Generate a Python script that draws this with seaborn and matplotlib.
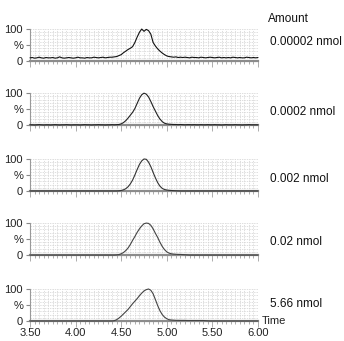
import numpy as np
import pandas as pd
import seaborn as sns
import matplotlib.pyplot as plt
from matplotlib.ticker import MultipleLocator, FixedLocator

# sampling grid of the traces (minutes)
time = np.round(3.5 + 0.025 * np.arange(101), 3)

# relative intensity (%)
amt1 = [10, 11, 9, 10, 12, 10, 9, 11, 10, 10,
        11, 9, 10, 13, 10, 9, 10, 11, 10, 9,
        10, 12, 10, 10, 9, 11, 10, 10, 12, 11,
        10, 11, 12, 10, 11, 12, 12, 13, 14, 17,
        20, 26, 31, 36, 40, 45, 58, 75, 90, 100,
        93, 99, 95, 84, 58, 47, 38, 31, 25, 20,
        16, 14, 13, 12, 13, 11, 12, 11, 12, 11,
        10, 12, 11, 11, 10, 12, 11, 10, 11, 12,
        11, 10, 11, 12, 10, 11, 10, 11, 10, 12,
        11, 10, 11, 10, 10, 12, 11, 10, 11, 10,
        11]
amt2 = [1, 1, 0.5, 1, 1.5, 1, 0.5, 1, 1, 0.5,
        1, 1.5, 1, 0.5, 1, 1, 1.5, 1, 0.5, 1,
        1, 1, 0.5, 1, 1.5, 1, 1, 0.5, 1, 1,
        1.5, 1, 1, 0.5, 1, 1, 1.5, 1, 1.5, 2,
        4, 8, 14, 22, 31, 40, 52, 68, 84, 95,
        100, 97, 88, 74, 58, 44, 30, 19, 11, 6,
        4, 3, 2.5, 2, 2, 1.5, 2, 1.5, 1, 1.5,
        1.5, 1, 1.5, 1, 1, 1.5, 1, 1, 1.5, 1,
        1, 1.5, 1, 1, 0.5, 1, 1.5, 1, 1, 1,
        1.5, 1, 1, 0.5, 1, 1, 1.5, 1, 1, 1,
        1]
amt3 = ([0] * 39 +
        [0.5, 1.5, 3.5, 7, 13, 22, 34, 50, 67, 83, 94,
         100, 99, 90, 76, 58, 41, 26, 15, 8, 4.5,
         3, 2, 1.5, 1, 0.6, 0.3] +
        [0] * 35)
amt4 = ([0] * 38 +
        [0.5, 1.5, 4, 8, 14, 22, 33, 46, 58, 71, 82, 91,
         98, 100, 99, 93, 82, 68, 55, 40, 27, 17,
         10, 6, 4, 3, 2.5, 2, 2, 1.5, 1, 0.5] +
        [0] * 31)
amt5 = ([0] * 37 +
        [1, 4, 9, 15, 22, 29, 36, 45, 54, 62, 70, 79, 87,
         94, 98, 100, 96, 85, 67, 48, 32, 20, 12,
         7, 4, 3, 2.5, 2, 2, 1.8, 1.8, 1.8, 1.5,
         1.5, 1.5, 1.5, 1.5, 1.5, 1.5, 1.5, 1, 0.5] +
        [0] * 22)

amounts = ['0.00002 nmol', '0.0002 nmol', '0.002 nmol', '0.02 nmol', '5.66 nmol']
series = [amt1, amt2, amt3, amt4, amt5]
line_colors = ['#111111', '#222222', '#333333', '#444444', '#444444']
xtick_vals = [3.5, 4.0, 4.5, 5.0, 5.5, 6.0]
xtick_text = ['3.50', '4.00', '4.50', '5.00', '5.50', '6.00']

sns.set_style('white')
plt.rcParams['font.family'] = ['Liberation Sans', 'DejaVu Sans']

fig = plt.figure(figsize=(3.44, 3.41), dpi=100)

# panel positions in figure fraction
bottoms = [0.821, 0.633, 0.440, 0.252, 0.0587]
label_y = [42, 112, 179, 242, 304]

for i, (vals, amt) in enumerate(zip(series, amounts)):
    ax = fig.add_axes([0.0872, bottoms[i], 0.6628, 0.0938])
    df = pd.DataFrame({'time': time, 'pct': vals})
    sns.lineplot(data=df, x='time', y='pct', color=line_colors[i], linewidth=0.8,
                 estimator=None, ax=ax, clip_on=False, zorder=3)
    ax.set_xlim(3.5, 6.0)
    ax.set_ylim(0, 100)

    # dense dashed grid
    ax.xaxis.set_major_locator(FixedLocator(xtick_vals))
    ax.xaxis.set_minor_locator(MultipleLocator(0.05))
    ax.yaxis.set_minor_locator(MultipleLocator(10))
    ax.set_yticks([0, 50, 100])
    ax.set_yticklabels(['0', '%', '100'])
    ax.yaxis.get_major_ticks()[1].tick1line.set_visible(False)
    ax.grid(which='both', color='#d2d2d2', linestyle=(0, (2, 1.5)), linewidth=0.5)
    ax.set_axisbelow(True)

    ax.tick_params(axis='y', which='major', length=3, width=0.8, color='#888888',
                   labelsize=8, pad=2, labelcolor='#222222', left=True)
    ax.tick_params(axis='y', which='minor', left=False)
    ax.tick_params(axis='x', which='major', length=4, width=0.6, color='#a0a0a0',
                   labelsize=8, pad=1, labelcolor='#222222', bottom=True)
    ax.tick_params(axis='x', which='minor', length=2.5, width=0.6, color='#a0a0a0',
                   bottom=True)
    if i < 4:
        ax.set_xticklabels([])
    else:
        ax.set_xticklabels(xtick_text)
        ax.text(1.015, 0, 'Time', transform=ax.transAxes, fontsize=8,
                ha='left', va='center', color='#222222')
    ax.set_xlabel('')
    ax.set_ylabel('')

    sns.despine(ax=ax)
    ax.spines['bottom'].set_color('#8c8c8c')
    ax.spines['bottom'].set_linewidth(1.6)
    ax.spines['left'].set_color('#999999')
    ax.spines['left'].set_linewidth(0.8)

    fig.text(270 / 344, 1 - label_y[i] / 341, amt, fontsize=8.5,
             ha='left', va='center', color='#111111')

fig.text(268 / 344, 1 - 19.5 / 341, 'Amount', fontsize=8.5,
         ha='left', va='center', color='#111111')

fig.savefig('out.png', dpi=100)
